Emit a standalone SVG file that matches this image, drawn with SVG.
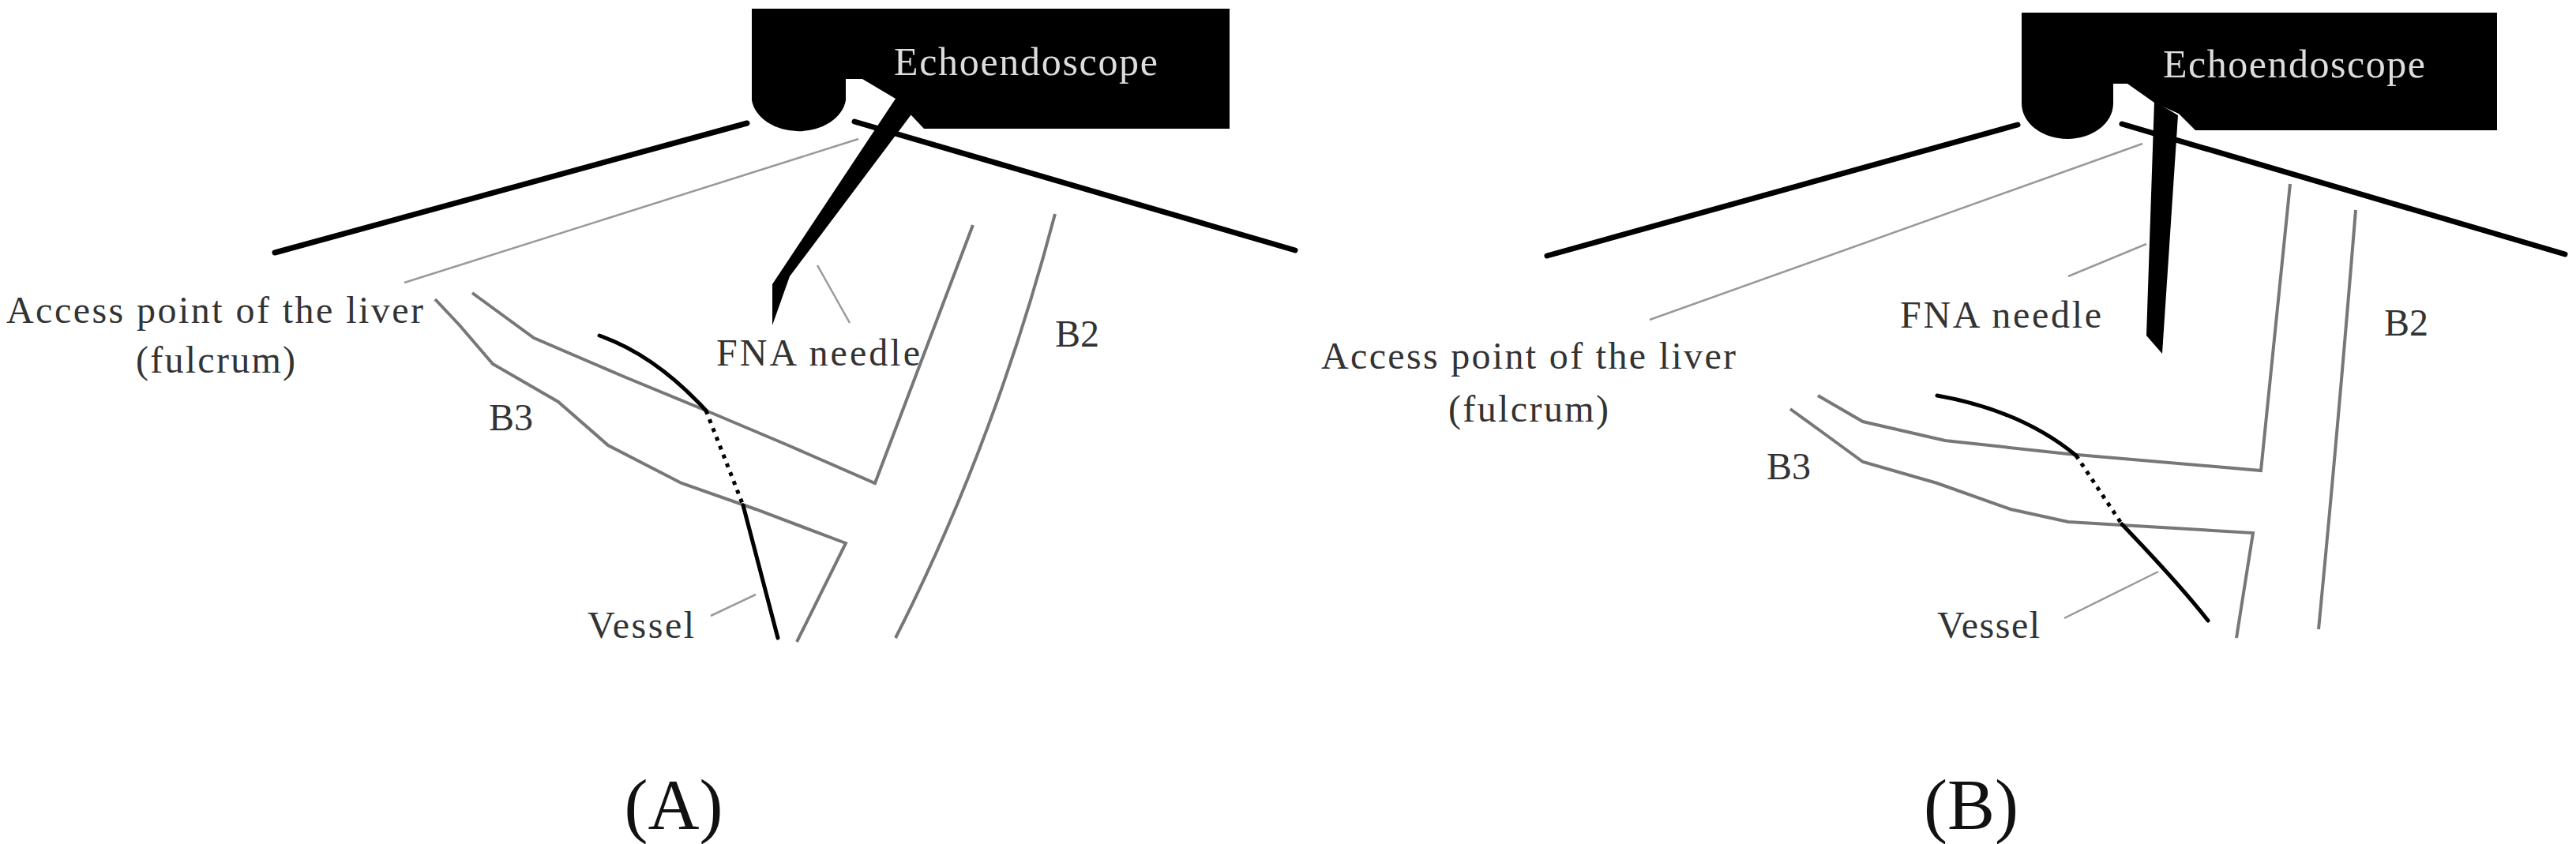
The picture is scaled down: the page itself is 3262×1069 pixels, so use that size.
<svg xmlns="http://www.w3.org/2000/svg" width="3262" height="1069" viewBox="0 0 3262 1069">
<style>
text{font-family:"Liberation Serif","Times New Roman",serif;}
.lbl{font-size:48px;fill:#333}
.scope{font-size:50px;fill:#ddd}
.organ{stroke:#000;stroke-width:7;fill:none;stroke-linecap:round}
.lead{stroke:#999;stroke-width:2.5;fill:none}
.duct{stroke:#777;stroke-width:4;fill:none;stroke-linejoin:miter}
.vessel{stroke:#000;stroke-width:5;fill:none;stroke-linecap:round}
.dot{stroke:#000;stroke-width:5;fill:none;stroke-dasharray:5 7}
.panel{font-size:90px;fill:#111}
</style>
<rect width="3262" height="1069" fill="#fff"/>
<g id="scopeA">
<path d="M952,11 H1557 V163 H1170 L1154,146 L1134,125 L1092,100 H1071 V127 A60,45 0 0 1 952,127 Z" fill="#000"/>
<polygon points="1134,125 1157,141 1000,350 978,412 978,360" fill="#000"/>
<text class="scope" x="1132" y="95" textLength="334">Echoendoscope</text>
</g>
<g id="organA">
<line class="organ" x1="348" y1="320" x2="946" y2="156"/>
<line class="organ" x1="1082" y1="154" x2="1640" y2="317"/>
</g>
<g id="ductsA">
<polyline class="duct" points="551,379 582,412 624,461 707,509 770,564 863,612 957,645 1071,688 1009,813"/>
<polyline class="duct" points="598,371 676,428 790,477 894,520 998,564 1108,612 1232,285"/>
<path class="duct" d="M1336,271 Q1260,560 1134,808"/>
</g>
<g id="vesselA">
<path class="vessel" d="M759,425 Q830,450 894,520"/>
<line class="dot" x1="894" y1="520" x2="941" y2="640"/>
<line class="vessel" x1="941" y1="640" x2="985" y2="808"/>
</g>
<g id="leadersA">
<line class="lead" x1="512" y1="358" x2="1087" y2="176"/>
<line class="lead" x1="1035" y1="336" x2="1076" y2="409"/>
<line class="lead" x1="900" y1="780" x2="957" y2="753"/>
</g>
<g id="labelsA">
<text class="lbl" x="8" y="409" textLength="528">Access point of the liver</text>
<text class="lbl" x="172" y="472" textLength="202">(fulcrum)</text>
<text class="lbl" x="907" y="463" textLength="258">FNA needle</text>
<text class="lbl" x="1336" y="439">B2</text>
<text class="lbl" x="619" y="545">B3</text>
<text class="lbl" x="744" y="808" textLength="135">Vessel</text>
<text class="panel" x="853" y="1050" text-anchor="middle">(A)</text>
</g>
<g id="scopeB">
<path d="M2560,16 H3162 V165 H2780 L2759,144 L2728,130 L2694,106 H2676 V131 A58,45 0 0 1 2560,131 Z" fill="#000"/>
<polygon points="2728,128 2758,146 2738,448 2718,425" fill="#000"/>
<text class="scope" x="2739" y="98" textLength="332">Echoendoscope</text>
</g>
<g id="organB">
<line class="organ" x1="1959" y1="324" x2="2555" y2="158"/>
<line class="organ" x1="2687" y1="157" x2="3248" y2="322"/>
</g>
<g id="ductsB">
<polyline class="duct" points="2302,501 2359,534 2463,558 2619,575 2863,596 2900,233"/>
<polyline class="duct" points="2267,518 2307,547 2359,585 2453,612 2546,645 2619,661 2853,675 2832,808"/>
<path class="duct" d="M2983,266 Q2960,550 2936,797"/>
</g>
<g id="vesselB">
<path class="vessel" d="M2453,501 Q2560,520 2629,577"/>
<line class="dot" x1="2629" y1="577" x2="2687" y2="664"/>
<path class="vessel" d="M2687,664 Q2760,740 2796,786"/>
</g>
<g id="leadersB">
<line class="lead" x1="2089" y1="405" x2="2713" y2="182"/>
<line class="lead" x1="2619" y1="350" x2="2718" y2="309"/>
<line class="lead" x1="2614" y1="783" x2="2733" y2="724"/>
</g>
<g id="labelsB">
<text class="lbl" x="1673" y="467" textLength="525">Access point of the liver</text>
<text class="lbl" x="1834" y="534" textLength="203">(fulcrum)</text>
<text class="lbl" x="2406" y="415" textLength="255">FNA needle</text>
<text class="lbl" x="3019" y="425">B2</text>
<text class="lbl" x="2237" y="607">B3</text>
<text class="lbl" x="2453" y="808" textLength="130">Vessel</text>
<text class="panel" x="2496" y="1050" text-anchor="middle">(B)</text>
</g>
</svg>
